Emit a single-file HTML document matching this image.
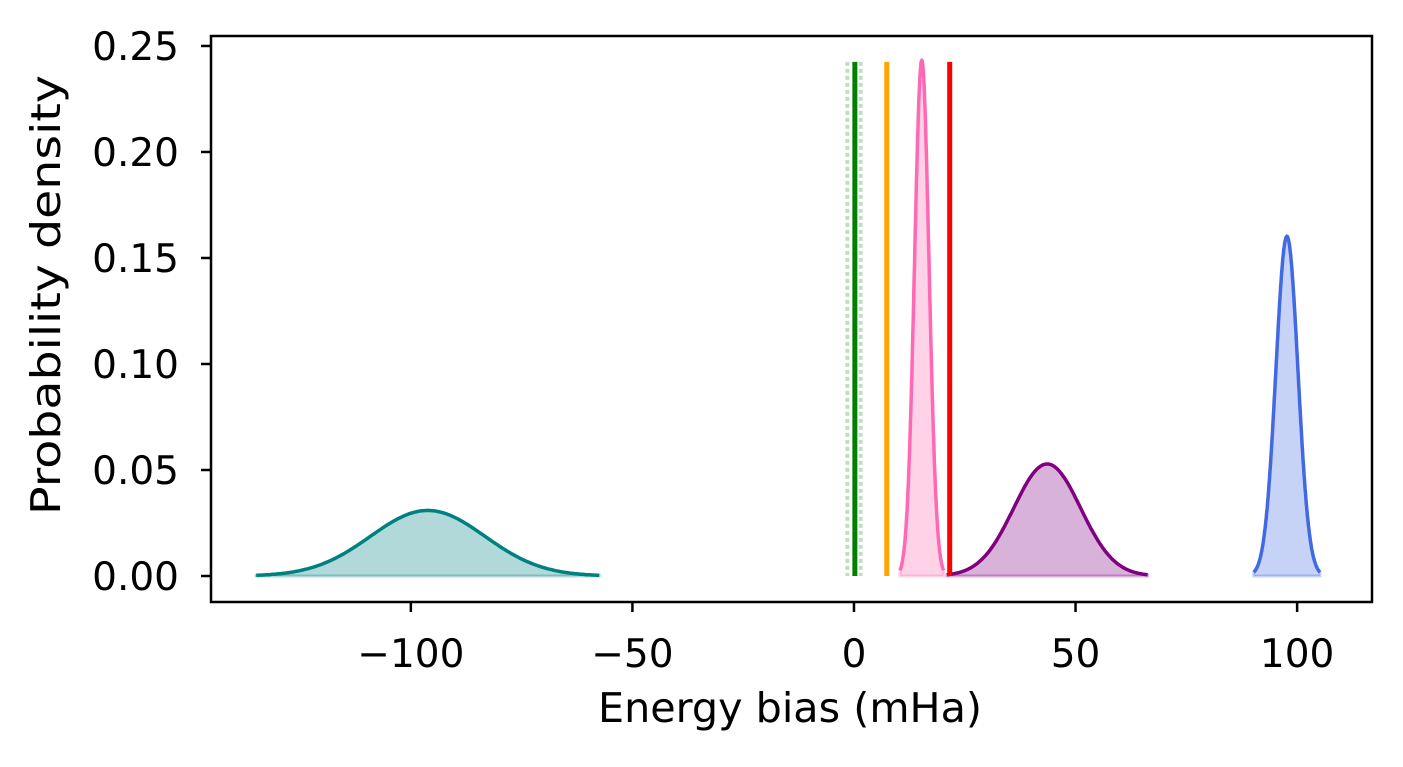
<!DOCTYPE html>
<html><head><meta charset="utf-8"><style>
body{margin:0;background:#fff;}
svg text{font-family:"DejaVu Sans","Liberation Sans",sans-serif;font-size:39px;fill:#000;}
svg text.title{font-size:41px;}
</style></head><body>
<svg id="chart" width="1403" height="762" xmlns="http://www.w3.org/2000/svg">
<g id="marks"></g>
<rect x="211" y="36" width="1161" height="566" fill="none" stroke="#000" stroke-width="2.5"/>
<g id="axes"></g>
<text class="title" x="790" y="722" text-anchor="middle" textLength="384" lengthAdjust="spacingAndGlyphs">Energy bias (mHa)</text>
<text class="title" transform="translate(60,295) rotate(-90)" text-anchor="middle" textLength="440" lengthAdjust="spacingAndGlyphs">Probability density</text>
</svg>
<script>
const seriesNames=['teal','pink','purple','blue'];
const means=[-96.2,15.3,43.6,97.7];
const sigmas=[12.9,1.64,7.55,2.49];
const colors=['#008080','#ff69b4','#800080','#4169e1'];
const vlineValues=[0.2,7.4,21.6];
const vlineColors=['green','orange','red'];
const dottedValues=[-1.5,1.5];
const xTicks=[-100,-50,0,50,100];
const xTickLabels=['\u2212100','\u221250','0','50','100'];
const yTicks=[0,0.05,0.1,0.15,0.2,0.25];
const yTickLabels=['0.00','0.05','0.10','0.15','0.20','0.25'];
const vTop=0.2425;

const X0=211,X1=1372,Y0=36,Y1=602;
const xmin=-145.1,xmax=116.9,ymin=-0.01226,ymax=0.2547;
const sx=v=>X0+(v-xmin)/(xmax-xmin)*(X1-X0);
const sy=v=>Y1-(v-ymin)/(ymax-ymin)*(Y1-Y0);
const NS='http://www.w3.org/2000/svg';
const marks=document.getElementById('marks'),axes=document.getElementById('axes');
function mk(tag,attrs,parent){const e=document.createElementNS(NS,tag);for(const k in attrs)e.setAttribute(k,attrs[k]);parent.appendChild(e);return e;}

dottedValues.forEach((v,i)=>{
  const l=mk('line',{x1:sx(v),x2:sx(v),y1:sy(vTop),y2:sy(0),stroke:'rgba(0,128,0,0.25)','stroke-width':4,'stroke-dasharray':'4 3'},marks);
  
  
});
means.forEach((m,i)=>{
  const s=sigmas[i];const pts=[];
  for(let k=0;k<=200;k++){const v=m-3*s+6*s*k/200;const d=Math.exp(-0.5*((v-m)/s)**2)/(s*Math.sqrt(2*Math.PI));pts.push(sx(v).toFixed(1)+','+sy(d).toFixed(1));}
  const f=mk('polygon',{points:sx(m-3*s)+','+sy(0)+' '+pts.join(' ')+' '+sx(m+3*s)+','+sy(0),fill:colors[i],'fill-opacity':0.3,stroke:colors[i],'stroke-opacity':0.3,'stroke-width':3},marks);
  
  
  const p=mk('polyline',{points:pts.join(' '),fill:'none',stroke:colors[i],'stroke-width':3.5},marks);
  
  
});
vlineValues.forEach((v,i)=>{
  const l=mk('line',{x1:sx(v),x2:sx(v),y1:sy(vTop),y2:sy(0),stroke:vlineColors[i],'stroke-width':5},marks);
  
  
});
xTicks.forEach((v,i)=>{
  const x=sx(v);
  const t=mk('line',{x1:x,x2:x,y1:Y1,y2:Y1+10,stroke:'#000','stroke-width':2.5},axes);
  
  
  const tx=mk('text',{x:x,y:667,'text-anchor':'middle'},axes);tx.textContent=xTickLabels[i];
  
  
});
yTicks.forEach((v,i)=>{
  const y=sy(v);
  const t=mk('line',{x1:X0-10,x2:X0,y1:y,y2:y,stroke:'#000','stroke-width':2.5},axes);
  
  
  const tx=mk('text',{x:179,y:y+14,'text-anchor':'end'},axes);tx.textContent=yTickLabels[i];
  
  
});
</script>
</body></html>
